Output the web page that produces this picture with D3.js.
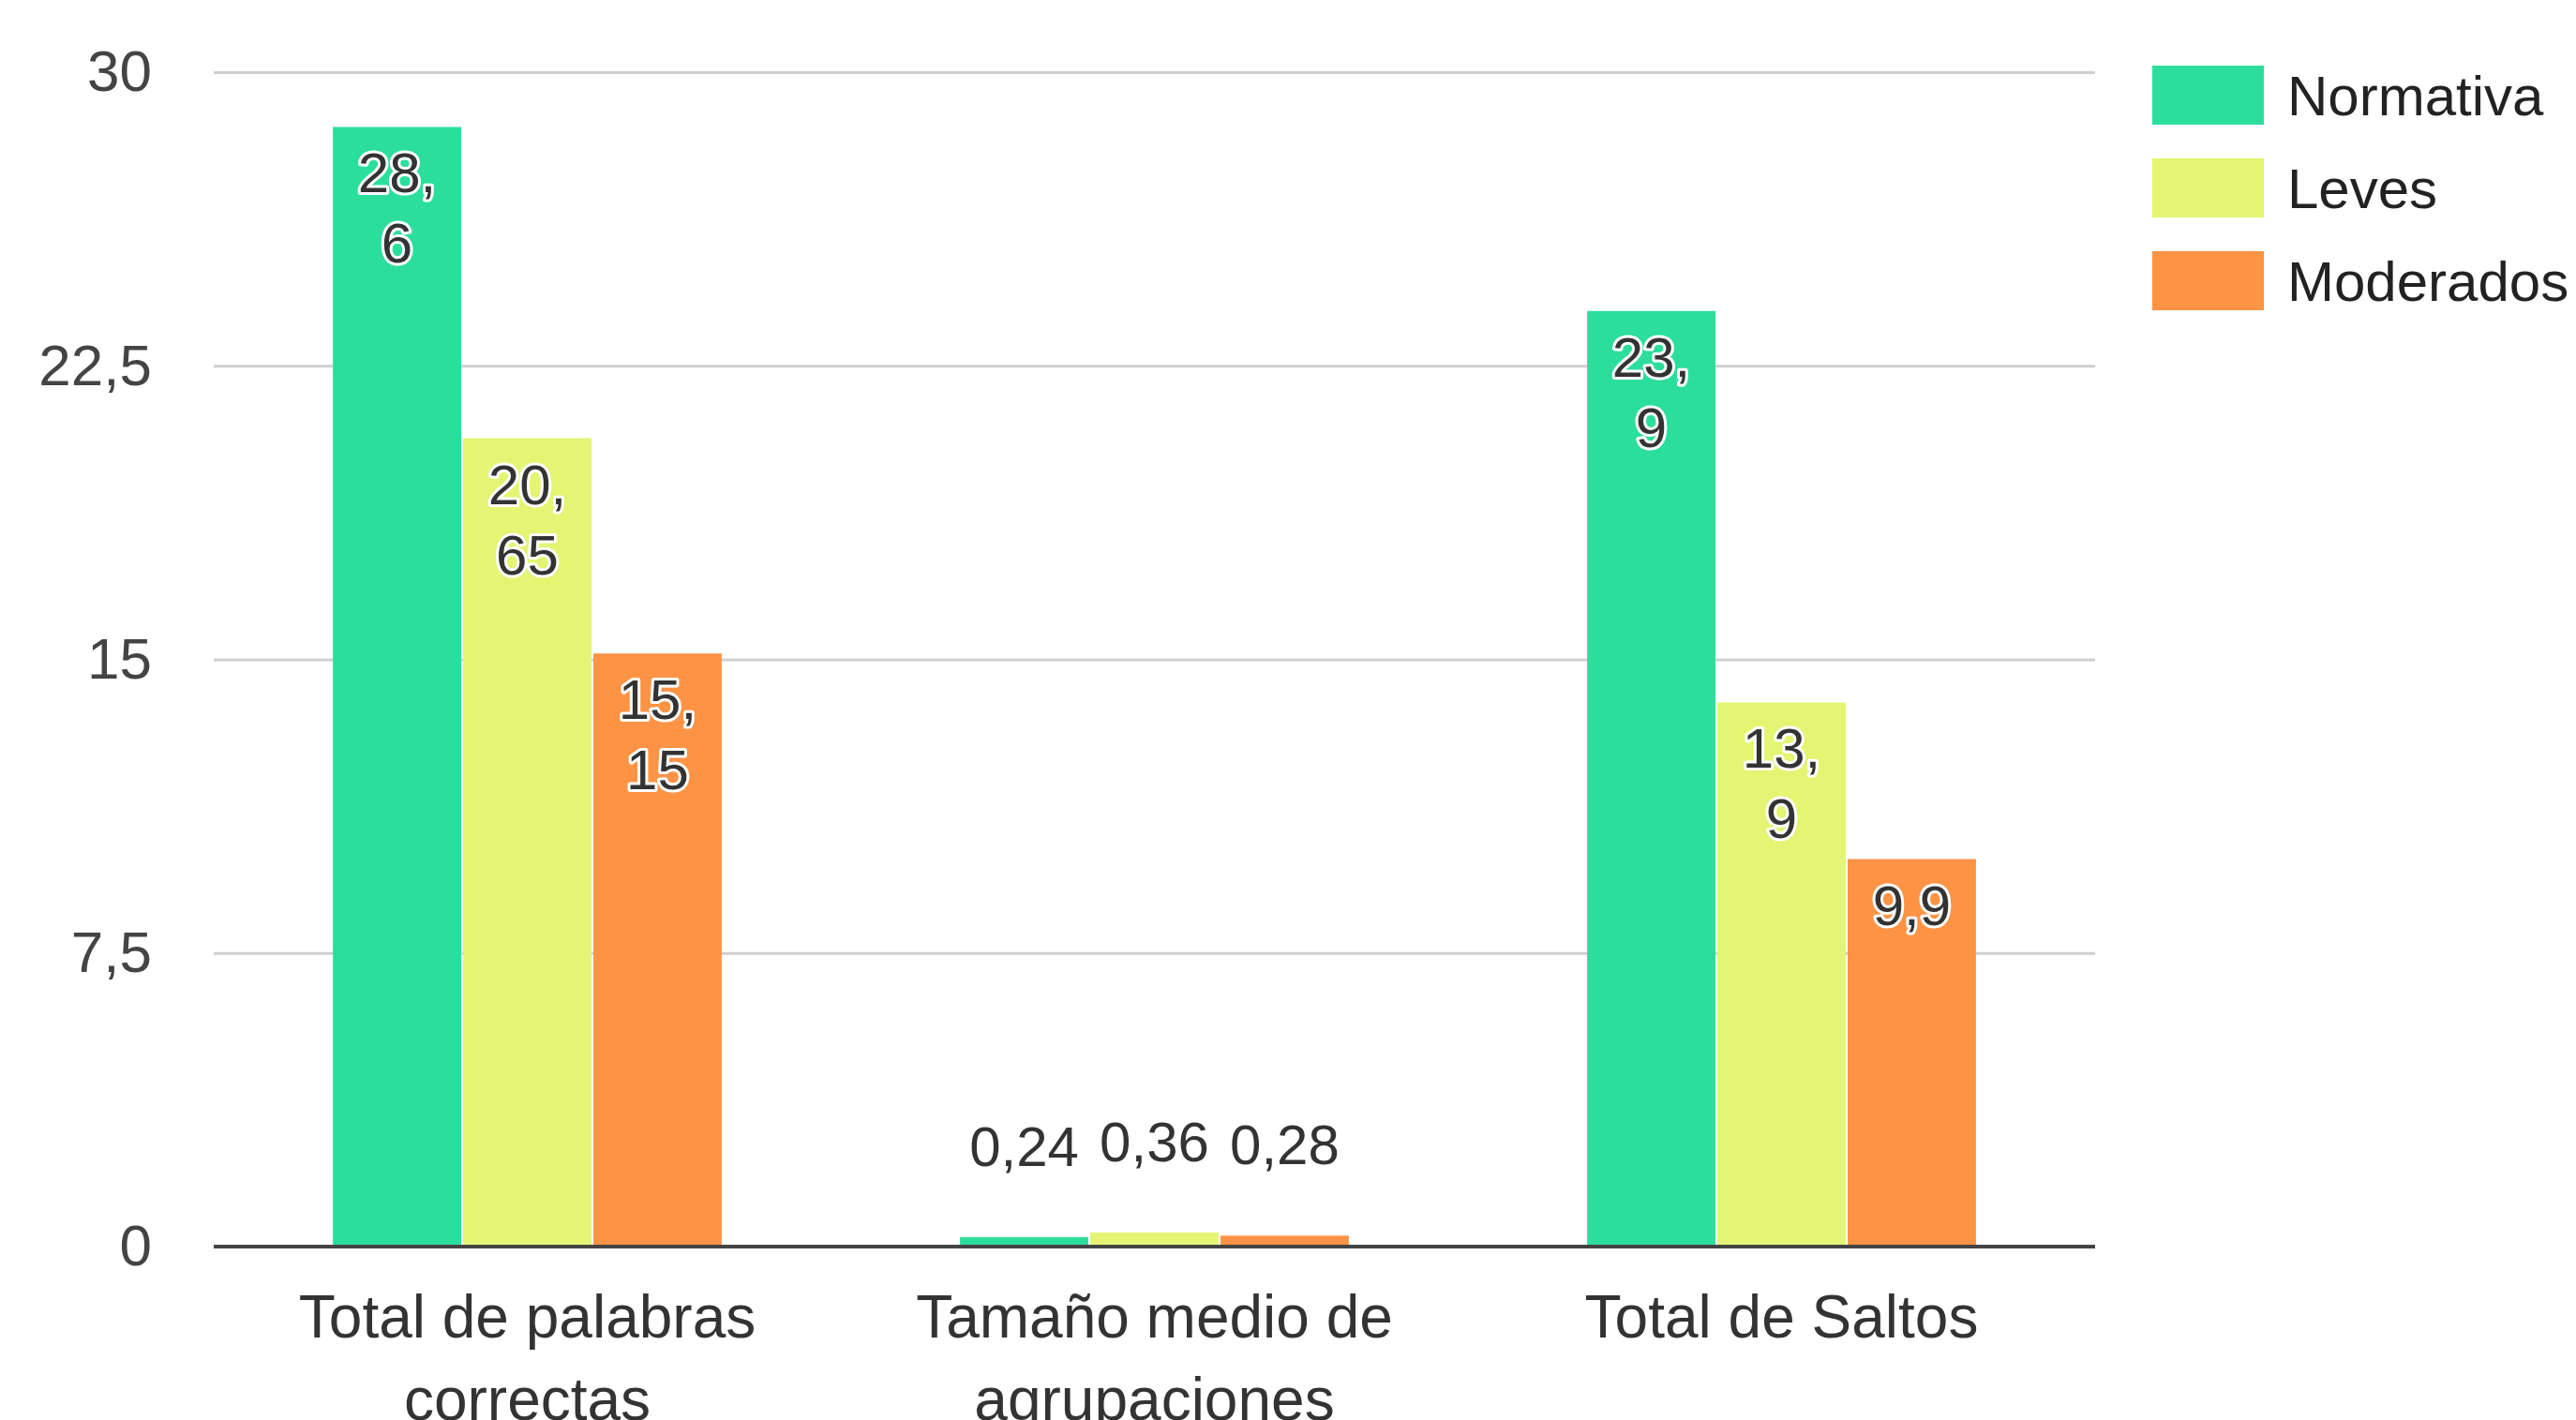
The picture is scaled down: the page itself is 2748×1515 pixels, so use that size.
<!DOCTYPE html>
<html>
<head>
<meta charset="utf-8">
<script src="https://cdn.jsdelivr.net/npm/d3@7"></script>
<style>
  body { margin: 0; background: #fff; }
  text { font-family: "Liberation Sans", Arial, sans-serif; }
</style>
</head>
<body>
<div id="chart"></div>
<script>
// data
const categories = ["Total de palabras correctas", "Tamaño medio de agrupaciones", "Total de Saltos"];
const seriesNames = ["Normativa", "Leves", "Moderados"];
const normativa = [28.6, 0.24, 23.9];
const leves = [20.65, 0.36, 13.9];
const moderados = [15.15, 0.28, 9.9];
const yTicks = [0, 7.5, 15, 22.5, 30];
const colors = ["#2cde9c", "#e3f572", "#fd9345"];

const seriesValues = [normativa, leves, moderados];

const W = 2748, H = 1515;
const plot = { left: 228, right: 2235, top: 77, bottom: 1330 };

const svg = d3.select("#chart").append("svg")
  .attr("width", W)
  .attr("height", H);

const x0 = d3.scaleBand()
  .domain(categories)
  .range([plot.left, plot.right])
  .paddingInner(0.38)
  .paddingOuter(0.19);

const x1 = d3.scaleBand()
  .domain(seriesNames)
  .range([0, x0.bandwidth()])
  .paddingInner(0.015);

const y = d3.scaleLinear()
  .domain([0, 30])
  .range([plot.bottom, plot.top]);

const fmt = v => String(v).replace(".", ",");

// gridlines + y labels
const yAxis = svg.append("g")
  .attr("transform", "translate(" + plot.left + ",0)")
  .call(d3.axisLeft(y).tickValues(yTicks).tickSize(-(plot.right - plot.left)).tickPadding(66).tickFormat(fmt));
yAxis.select(".domain").remove();
yAxis.selectAll(".tick line").attr("stroke", "#cfcfcf").attr("stroke-width", 3)
  .filter(d => d === 0).remove();
yAxis.selectAll(".tick text")
  .attr("font-size", 62)
  .attr("fill", "#444")
  .attr("font-family", "Liberation Sans, Arial, sans-serif");

// bars
const groups = svg.selectAll(".group")
  .data(categories)
  .enter().append("g")
  .attr("class", "group")
  .attr("transform", d => "translate(" + x0(d) + ",0)");

const cells = groups.selectAll("g.cell")
  .data((d, i) => seriesNames.map((s, j) => ({ series: s, value: seriesValues[j][i], color: colors[j] })))
  .enter().append("g")
  .attr("class", "cell");

cells.append("rect")
  .attr("x", d => x1(d.series))
  .attr("y", d => y(d.value))
  .attr("width", x1.bandwidth())
  .attr("height", d => y(0) - y(d.value))
  .attr("fill", d => d.color);

// baseline
svg.append("line")
  .attr("x1", plot.left).attr("x2", plot.right)
  .attr("y1", y(0)).attr("y2", y(0))
  .attr("stroke", "#444").attr("stroke-width", 4);

// value labels
cells.each(function(d) {
  const g = d3.select(this);
  const cx = x1(d.series) + x1.bandwidth() / 2;
  const label = fmt(d.value);
  const inside = (y(0) - y(d.value)) > 150;
  const t = g.append("text")
    .attr("text-anchor", "middle")
    .attr("font-size", 60)
    .attr("fill", "#333")
    .attr("stroke", "#fff")
    .attr("stroke-width", 6)
    .attr("stroke-linejoin", "round")
    .attr("paint-order", "stroke");
  if (!inside) {
    t.attr("x", cx).attr("y", y(d.value) - 76).text(label);
    return;
  }
  t.attr("x", cx).attr("y", y(d.value) + 70).text(label);
  // the inside labels break after the comma once they run past 3 characters
  if (label.length > 3) {
    const parts = label.split(",");
    t.text(null);
    t.append("tspan").attr("x", cx).attr("dy", 0).text(parts[0] + ",");
    t.append("tspan").attr("x", cx).attr("dy", 75).text(parts[1]);
  }
});

// category labels, wrapped to the band step
function wrap(text, width) {
  text.each(function() {
    const t = d3.select(this);
    const words = t.text().split(" ");
    const xx = t.attr("x");
    t.text(null);
    let line = [];
    let tspan = t.append("tspan").attr("x", xx).attr("dy", 0);
    words.forEach(w => {
      line.push(w);
      tspan.text(line.join(" "));
      if (tspan.node().getComputedTextLength() > width && line.length > 1) {
        line.pop();
        tspan.text(line.join(" "));
        line = [w];
        tspan = t.append("tspan").attr("x", xx).attr("dy", 88).text(w);
      }
    });
  });
}

svg.append("g").selectAll("text")
  .data(categories)
  .enter().append("text")
  .attr("x", d => x0(d) + x0.bandwidth() / 2)
  .attr("y", 1427)
  .attr("text-anchor", "middle")
  .attr("font-size", 64)
  .attr("fill", "#333")
  .text(d => d)
  .call(wrap, x0.step() - 90);

// legend
const legend = svg.append("g")
  .attr("transform", "translate(2296,70)");
const items = legend.selectAll("g")
  .data(seriesNames)
  .enter().append("g")
  .attr("transform", (d, i) => "translate(0," + i * 99 + ")");
items.append("rect")
  .attr("width", 119)
  .attr("height", 63)
  .attr("fill", (d, i) => colors[i]);
items.append("text")
  .attr("x", 144)
  .attr("y", 53)
  .attr("font-size", 60)
  .attr("fill", "#222")
  .text(d => d);
</script>
</body>
</html>
